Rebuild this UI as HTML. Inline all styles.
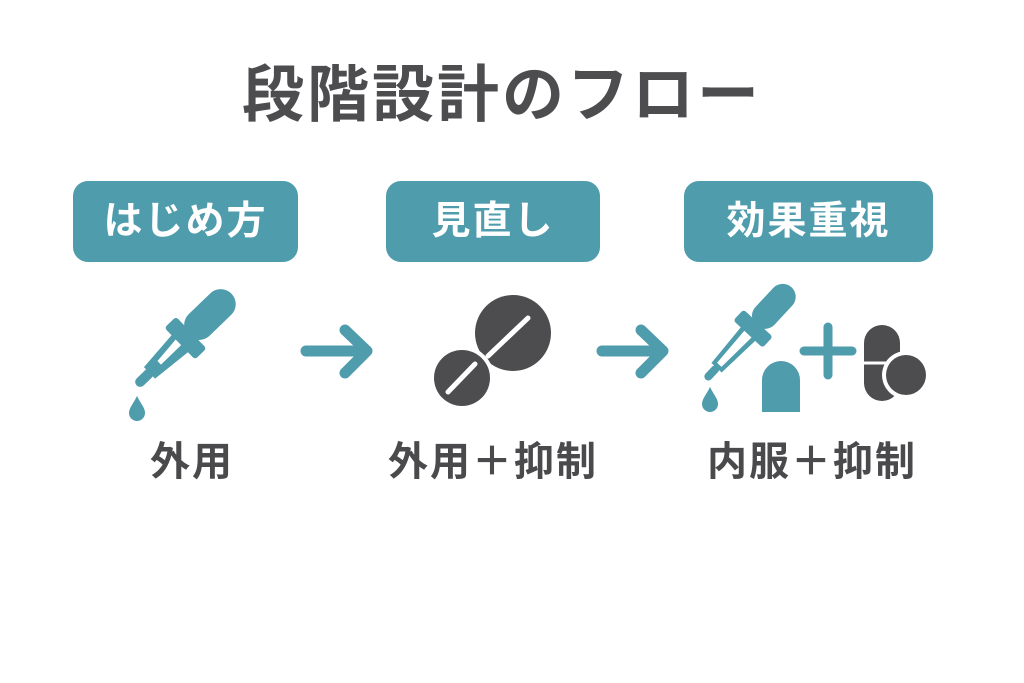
<!DOCTYPE html>
<html><head><meta charset="utf-8"><style>
html,body{margin:0;padding:0;background:#fff;}
body{width:1024px;height:683px;position:relative;overflow:hidden;font-family:"Liberation Sans","Noto Sans CJK JP",sans-serif;}
.t{position:absolute;left:0;width:1004px;text-align:center;top:60px;font-size:62px;font-weight:bold;color:#4d4d4f;line-height:72px;letter-spacing:3px;}
.b{position:absolute;top:181px;height:81px;background:#4f9cac;border-radius:15px;color:#fff;font-weight:bold;font-size:39px;line-height:81px;text-align:center;letter-spacing:2px;}
.l{position:absolute;top:437px;font-size:40px;font-weight:bold;color:#4a4a4c;line-height:50px;text-align:center;letter-spacing:2px;}
svg{position:absolute;left:0;top:0;}
</style></head><body>
<div class="t">段階設計のフロー</div>
<div class="b" style="left:73px;width:225px;">はじめ方</div>
<div class="b" style="left:386px;width:214px;">見直し</div>
<div class="b" style="left:684px;width:249px;">効果重視</div>
<div class="l" style="left:92px;width:200px;">外用</div>
<div class="l" style="left:373px;width:240px;">外用＋抑制</div>
<div class="l" style="left:692px;width:240px;">内服＋抑制</div>
<svg width="1024" height="683" viewBox="0 0 1024 683">
<defs>
<g id="drop">
 <path d="M0,-14 C4,-6 8,-2 8,3 A8,8 0 0 1 -8,3 C-8,-2 -4,-6 0,-14Z" fill="#4f9cac"/>
</g>
</defs>
<g transform="translate(138,384) rotate(-44)">
 <rect x="-2" y="-5" width="22" height="10" rx="5" fill="#4f9cac"/>
 <path d="M16,-8 L60,-12 L60,12 L16,8Z" fill="#4f9cac"/>
 <path d="M30,-3 L60,-6 L60,2 L30,2Z" fill="#fff"/>
 <rect x="58" y="-22" width="16" height="44" rx="3" fill="#4f9cac"/>
 <rect x="70" y="-15" width="60" height="30" rx="15" fill="#4f9cac"/>
</g>
<use href="#drop" x="137" y="410"/>
<g stroke="#4f9cac" stroke-width="11" stroke-linecap="round" fill="none" stroke-linejoin="round">
 <line x1="306" y1="351" x2="364" y2="351"/><polyline points="345,330 367,351 345,373"/>
 <line x1="602" y1="351" x2="660" y2="351"/><polyline points="641,330 663,351 641,373"/>
</g>
<circle cx="513" cy="333" r="38" fill="#4d4d4f"/>
<circle cx="462" cy="378" r="32" fill="#fff"/>
<circle cx="462" cy="378" r="28" fill="#4d4d4f"/>
<line x1="488" y1="356" x2="528" y2="318" stroke="#fff" stroke-width="5" stroke-linecap="round"/>
<line x1="448" y1="392" x2="475" y2="364" stroke="#fff" stroke-width="5" stroke-linecap="round"/>
<g transform="translate(707,378) rotate(-47)">
 <rect x="-2" y="-4" width="18" height="8" rx="4" fill="#4f9cac"/>
 <path d="M14,-7 L62,-10 L62,10 L14,7Z" fill="#4f9cac"/>
 <path d="M18,-3 L62,-5 L62,5 L18,3Z" fill="#fff"/>
 <rect x="60" y="-20" width="15" height="40" rx="3" fill="#4f9cac"/>
 <rect x="72" y="-13" width="52" height="26" rx="13" fill="#4f9cac"/>
</g>
<use href="#drop" x="710" y="401"/>
<path d="M762,412 L762,380 A19,19 0 0 1 800,380 L800,412Z" fill="#4f9cac"/>
<g stroke="#4f9cac" stroke-width="9" stroke-linecap="round">
 <line x1="804" y1="351" x2="852" y2="351"/><line x1="828" y1="327" x2="828" y2="375"/>
</g>
<rect x="864" y="325" width="36" height="76" rx="18" fill="#4d4d4f"/>
<line x1="864" y1="363" x2="900" y2="363" stroke="#fff" stroke-width="3"/>
<circle cx="906" cy="375" r="24" fill="#fff"/>
<circle cx="906" cy="375" r="20" fill="#4d4d4f"/>
</svg>
</body></html>
